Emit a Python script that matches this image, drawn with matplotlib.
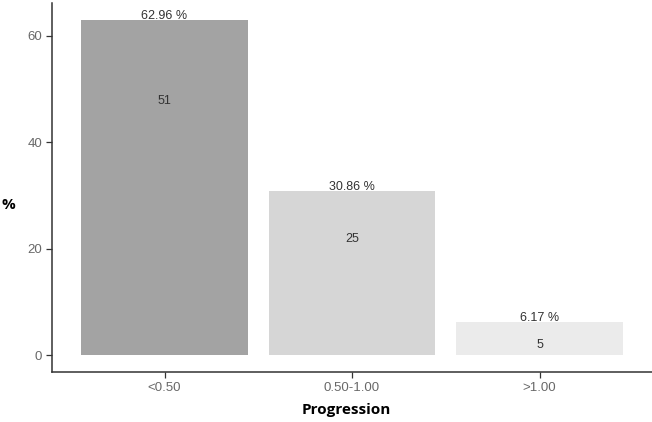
import matplotlib
matplotlib.use("Agg")
import matplotlib.pyplot as plt

# data
categories = ["<0.50", "0.50-1.00", ">1.00"]
percents = [62.96, 30.86, 6.17]
counts = [51, 25, 5]
bar_colors = ["#a3a3a3", "#d6d6d6", "#ebebeb"]

# where the count labels sit inside the bars
count_label_y = [47.8, 21.9, 1.9]

fig = plt.figure(figsize=(6.52, 4.22), dpi=100)
ax = fig.add_axes([52 / 652, 50 / 422, 1 - 52 / 652, 369 / 422])

x = list(range(1, len(categories) + 1))
ax.bar(x, percents, width=0.89, color=bar_colors, zorder=2)

for xi, p, c, cy in zip(x, percents, counts, count_label_y):
    ax.text(xi, p + 0.8, f"{p:.2f} %", ha="center", va="center",
            fontsize=9, color="#333333", family="Liberation Sans")
    ax.text(xi, cy, str(c), ha="center", va="center",
            fontsize=9, color="#333333", family="Liberation Sans")

ax.set_xlim(0.4, 3.6)
top = max(percents)
ax.set_ylim(-top * 0.05, top * 1.05)
ax.set_xticks(x)
ax.set_xticklabels(categories)
ax.set_yticks([0, 20, 40, 60])

for s in ["top", "right"]:
    ax.spines[s].set_visible(False)
for s in ["left", "bottom"]:
    ax.spines[s].set_color("#333333")
    ax.spines[s].set_linewidth(1.1)

ax.tick_params(axis="both", colors="#333333", length=4, width=0.9,
               labelsize=9.5, labelcolor="#686868", pad=3)
for lab in ax.get_xticklabels() + ax.get_yticklabels():
    lab.set_family("Liberation Sans")

ax.set_xlabel("Progression", fontsize=11, fontweight="bold",
              family="Open Sans", labelpad=5)
ax.xaxis.set_label_coords(0.49, -0.085)
fig.text(8 / 652, 1 - 205 / 422, "%", fontsize=11, fontweight="bold",
         family="Open Sans", ha="center", va="center")

fig.savefig("out.png", dpi=100)
